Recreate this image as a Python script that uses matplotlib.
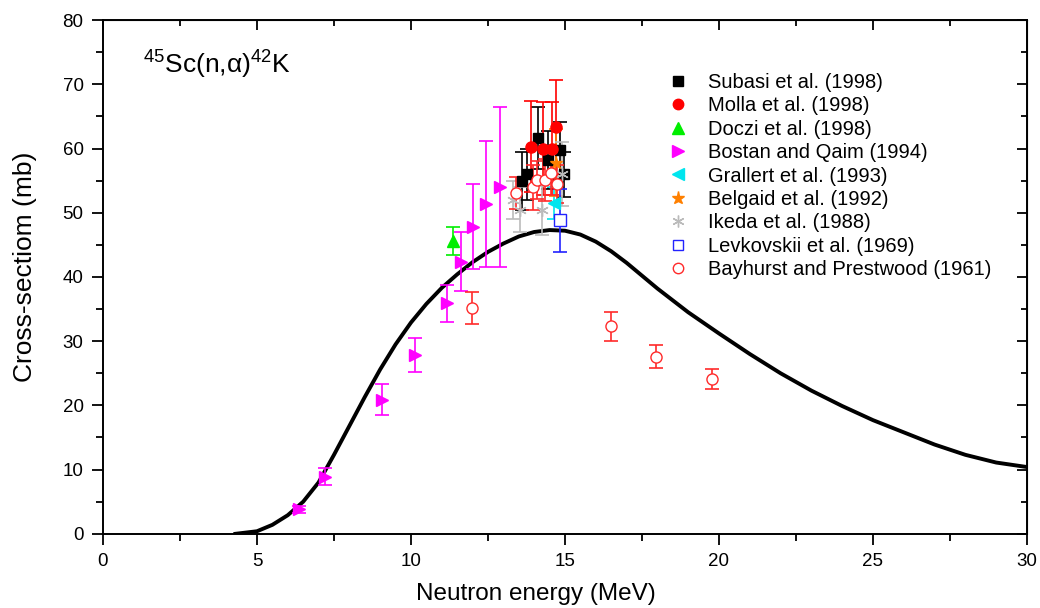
import matplotlib.pyplot as plt
from matplotlib.lines import Line2D
from matplotlib.ticker import MultipleLocator

plt.rcParams['font.family'] = ['Liberation Sans', 'DejaVu Sans']
plt.rcParams['mathtext.fontset'] = 'custom'
plt.rcParams['mathtext.rm'] = 'Liberation Sans'

# calculated excitation function
curve_e = [4.3, 5.0, 5.5, 6.0, 6.5, 7.0, 7.5, 8.0, 8.5, 9.0, 9.5, 10.0, 10.5, 11.0,
           11.5, 12.0, 12.5, 13.0, 13.5, 14.0, 14.5, 15.0, 15.5, 16.0, 16.5, 17.0,
           17.5, 18.0, 19.0, 20.0, 21.0, 22.0, 23.0, 24.0, 25.0, 26.0, 27.0, 28.0,
           29.0, 30.0]
curve_xs = [0.0, 0.4, 1.4, 2.9, 5.0, 8.0, 12.3, 16.8, 21.3, 25.6, 29.5, 32.9, 35.8,
            38.3, 40.4, 42.3, 43.9, 45.2, 46.3, 47.0, 47.3, 47.2, 46.6, 45.5, 44.0,
            42.2, 40.2, 38.2, 34.5, 31.2, 28.0, 25.0, 22.3, 19.9, 17.7, 15.8, 13.9,
            12.3, 11.1, 10.4]

# experimental data: energy, cross-section, error
subasi_e = [13.62, 13.76, 14.14, 14.45, 14.84, 14.97]
subasi_y = [55.0, 56.0, 61.6, 58.2, 59.7, 56.0]
subasi_err = [4.5, 4.0, 4.8, 4.5, 4.5, 3.5]

molla_e = [13.91, 14.29, 14.59, 14.72]
molla_y = [60.3, 60.0, 60.0, 63.3]
molla_err = [7.1, 7.2, 7.3, 7.3]

doczi_e = [11.35]
doczi_y = [45.6]
doczi_err = [2.2]

bostan_e = [6.35, 7.2, 9.05, 10.13, 11.16, 11.64, 12.02, 12.45, 12.89]
bostan_y = [3.8, 8.9, 20.9, 27.9, 35.9, 42.4, 47.8, 51.4, 54.0]
bostan_err = [0.5, 1.3, 2.4, 2.65, 2.9, 4.6, 6.6, 9.8, 12.5]

grallert_e = [14.65]
grallert_y = [51.5]
grallert_err = [2.5]

belgaid_e = [14.72]
belgaid_y = [57.8]
belgaid_err = [5.2]

ikeda_e = [13.32, 13.55, 14.24, 14.9]
ikeda_y = [52.0, 50.5, 50.4, 56.0]
ikeda_err = [3.0, 3.5, 3.8, 5.0]

levk_e = [14.84]
levk_y = [48.8]
levk_err = [4.9]

bay_e = [11.97, 13.41, 13.95, 14.1, 14.35, 14.55, 14.75, 16.51, 17.95, 19.76]
bay_y = [35.1, 53.1, 54.0, 55.1, 55.1, 56.2, 54.5, 32.3, 27.6, 24.1]
bay_err = [2.5, 2.5, 3.5, 3.0, 3.2, 3.5, 3.0, 2.3, 1.8, 1.6]

fig = plt.figure(figsize=(10.4, 6.08), dpi=100)
ax = fig.add_axes([0.099, 0.122, 0.8885, 0.845])

ax.plot(curve_e, curve_xs, color='black', lw=2.8, zorder=2)

sets = [
    ('Subasi et al. (1998)', subasi_e, subasi_y, subasi_err,
     dict(marker='s', color='black', mfc='black', ms=7), 7),
    ('Molla et al. (1998)', molla_e, molla_y, molla_err,
     dict(marker='o', color='red', mfc='red', ms=8), 7.5),
    ('Doczi et al. (1998)', doczi_e, doczi_y, doczi_err,
     dict(marker='^', color='#00ee00', mfc='#00ee00', ms=9), 9),
    ('Bostan and Qaim (1994)', bostan_e, bostan_y, bostan_err,
     dict(marker='>', color='#ff00ff', mfc='#ff00ff', ms=9), 9),
    ('Grallert et al. (1993)', grallert_e, grallert_y, grallert_err,
     dict(marker='<', color='#00e5ee', mfc='#00e5ee', ms=8), 9),
    ('Belgaid et al. (1992)', belgaid_e, belgaid_y, belgaid_err,
     dict(marker='*', color='#ff8000', mfc='#ff8000', ms=9), 9.5),
    ('Ikeda et al. (1988)', ikeda_e, ikeda_y, ikeda_err,
     dict(marker=(6, 2, 0), color='#bbbbbb', mfc='#bbbbbb', ms=9), 8.5),
    ('Levkovskii et al. (1969)', levk_e, levk_y, levk_err,
     dict(marker='s', color='#2222ff', mfc='white', ms=8), 7),
    ('Bayhurst and Prestwood (1961)', bay_e, bay_y, bay_err,
     dict(marker='o', color='#ff2a2a', mfc='white', ms=8), 7.5),
]

handles = []
for label, xe, ye, err, st, lms in sets:
    ax.errorbar(xe, ye, yerr=err, ls='none', marker=st['marker'], color=st['color'],
                mfc=st['mfc'], mec=st['color'], ms=st['ms'], elinewidth=1.2,
                capsize=5, capthick=1.2, zorder=3)
    handles.append(Line2D([], [], ls='none', marker=st['marker'], color=st['color'],
                          mfc=st['mfc'], mec=st['color'], ms=lms, label=label))

ax.legend(handles=handles, loc='upper left', bbox_to_anchor=(0.603, 0.913),
          frameon=False, fontsize=14.5, handlelength=1.0, handletextpad=1.0,
          labelspacing=0.22, borderaxespad=0, borderpad=0.4)

ax.text(1.3, 71.8, r'$^{45}$Sc(n,α)$^{42}$K', fontsize=19)

ax.set_xlim(0, 30)
ax.set_ylim(0, 80)
ax.xaxis.set_major_locator(MultipleLocator(5))
ax.xaxis.set_minor_locator(MultipleLocator(2.5))
ax.yaxis.set_major_locator(MultipleLocator(10))
ax.yaxis.set_minor_locator(MultipleLocator(5))
ax.tick_params(which='both', direction='out', labelsize=13.5, width=1.3, pad=6)
ax.tick_params(which='major', length=8)
ax.tick_params(which='minor', length=5)
for s in ax.spines.values():
    s.set_linewidth(1.4)

# inward ticks on the top and right frame
secx = ax.secondary_xaxis('top')
secx.xaxis.set_major_locator(MultipleLocator(5))
secx.xaxis.set_minor_locator(MultipleLocator(2.5))
secx.tick_params(which='both', direction='in', labeltop=False, width=1.3)
secx.tick_params(which='major', length=7)
secx.tick_params(which='minor', length=4)
secy = ax.secondary_yaxis('right')
secy.yaxis.set_major_locator(MultipleLocator(10))
secy.yaxis.set_minor_locator(MultipleLocator(5))
secy.tick_params(which='both', direction='in', labelright=False, width=1.3)
secy.tick_params(which='major', length=7)
secy.tick_params(which='minor', length=4)

ax.set_xlabel('Neutron energy (MeV)', fontsize=17.5)
ax.set_ylabel('Cross-sectiom (mb)', fontsize=19)
ax.xaxis.set_label_coords(0.468, -0.095)
ax.yaxis.set_label_coords(-0.071, 0.52)

fig.savefig('out.png', dpi=100)
